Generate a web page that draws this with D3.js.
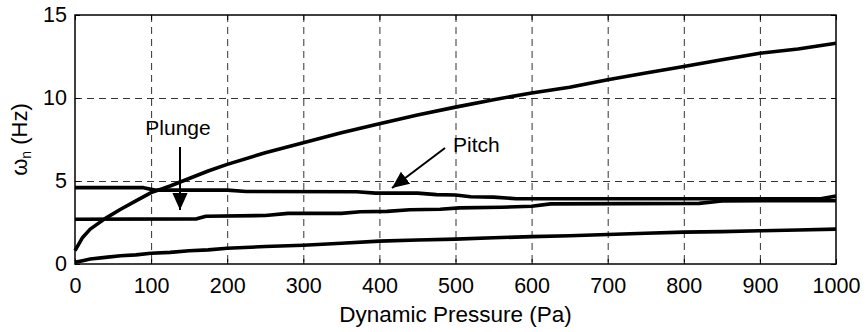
<!DOCTYPE html>
<html>
<head>
<meta charset="utf-8">
<script src="https://cdn.jsdelivr.net/npm/d3@7"></script>
<style>
  body { margin: 0; background: #fff; }
  text { font-family: "Liberation Sans", Arial, sans-serif; fill: #000; }
</style>
</head>
<body>
<svg id="chart"></svg>
<script>
// pressure (Pa) and frequency (Hz)
const upperQ = [0, 10, 20, 40, 60, 80, 100, 125, 150, 175, 200, 250, 300, 350, 400, 450, 500, 550, 600, 650, 700, 750, 800, 850, 900, 950, 1000];
const upperW = [0.8, 1.6, 2.1, 2.75, 3.3, 3.8, 4.3, 4.7, 5.15, 5.6, 6.0, 6.7, 7.3, 7.9, 8.45, 8.98, 9.45, 9.9, 10.3, 10.65, 11.1, 11.5, 11.9, 12.3, 12.7, 12.95, 13.3];

const lowerQ = [0, 10, 20, 40, 60, 80, 100, 125, 150, 175, 200, 250, 300, 350, 400, 450, 500, 550, 600, 650, 700, 750, 800, 850, 900, 950, 1000];
const lowerW = [0.1, 0.2, 0.3, 0.4, 0.5, 0.55, 0.65, 0.7, 0.8, 0.85, 0.95, 1.05, 1.13, 1.25, 1.38, 1.45, 1.5, 1.58, 1.65, 1.7, 1.78, 1.85, 1.92, 1.95, 2.0, 2.05, 2.1];

const pitchQ = [0, 90, 105, 200, 225, 370, 395, 450, 475, 500, 520, 550, 580, 980, 1000];
const pitchW = [4.6, 4.6, 4.45, 4.45, 4.37, 4.35, 4.27, 4.27, 4.18, 4.16, 4.05, 4.03, 3.93, 3.93, 4.1];

const plungeQ = [0, 160, 172, 250, 280, 350, 375, 410, 440, 480, 505, 560, 600, 625, 820, 850, 1000];
const plungeW = [2.7, 2.72, 2.88, 2.92, 3.05, 3.05, 3.15, 3.17, 3.27, 3.3, 3.38, 3.42, 3.48, 3.62, 3.65, 3.8, 3.82];

const xTicks = [0, 100, 200, 300, 400, 500, 600, 700, 800, 900, 1000];
const yTicks = [0, 5, 10, 15];

const width = 866, height = 332;
const margin = { top: 15, right: 30, bottom: 68, left: 75 };

const svg = d3.select("#chart")
  .attr("width", width)
  .attr("height", height);

const x = d3.scaleLinear().domain([0, 1000]).range([margin.left, width - margin.right]);
const y = d3.scaleLinear().domain([0, 15]).range([height - margin.bottom, margin.top]);

// grid
svg.append("g")
  .attr("stroke", "#333")
  .attr("stroke-width", 1)
  .attr("stroke-dasharray", "7,5")
  .call(g => g.selectAll("line.v")
    .data(xTicks.slice(1, -1))
    .join("line")
    .attr("class", "v")
    .attr("x1", d => x(d) + 0.5).attr("x2", d => x(d) + 0.5)
    .attr("y1", margin.top).attr("y2", height - margin.bottom))
  .call(g => g.selectAll("line.h")
    .data(yTicks.slice(1, -1))
    .join("line")
    .attr("class", "h")
    .attr("y1", d => y(d) + 0.5).attr("y2", d => y(d) + 0.5)
    .attr("x1", margin.left).attr("x2", width - margin.right));

// axes with inward ticks
svg.append("g")
  .attr("transform", `translate(0,${height - margin.bottom})`)
  .call(d3.axisBottom(x).tickValues(xTicks).tickFormat(d3.format("d")).tickSizeInner(-5).tickSizeOuter(0).tickPadding(14))
  .call(g => g.select(".domain").remove())
  .call(g => g.selectAll("text").attr("font-size", 21.5).attr("font-family", "Liberation Sans, Arial, sans-serif"));

svg.append("g")
  .attr("transform", `translate(${margin.left},0)`)
  .call(d3.axisLeft(y).tickValues(yTicks).tickSizeInner(-5).tickSizeOuter(0).tickPadding(8))
  .call(g => g.select(".domain").remove())
  .call(g => g.selectAll("text").attr("font-size", 21.5).attr("font-family", "Liberation Sans, Arial, sans-serif"));

svg.append("g")
  .attr("transform", `translate(${width - margin.right},0)`)
  .call(d3.axisRight(y).tickValues(yTicks).tickSizeInner(-5).tickSizeOuter(0).tickFormat(""))
  .call(g => g.select(".domain").remove());

svg.append("g")
  .attr("transform", `translate(0,${margin.top})`)
  .call(d3.axisTop(x).tickValues(xTicks).tickSizeInner(-5).tickSizeOuter(0).tickFormat(""))
  .call(g => g.select(".domain").remove());

svg.append("rect")
  .attr("x", margin.left)
  .attr("y", margin.top)
  .attr("width", width - margin.left - margin.right)
  .attr("height", height - margin.top - margin.bottom)
  .attr("fill", "none")
  .attr("stroke", "#000")
  .attr("stroke-width", 1.5);

// curves
const series = [
  d3.zip(upperQ, upperW),
  d3.zip(lowerQ, lowerW),
  d3.zip(pitchQ, pitchW),
  d3.zip(plungeQ, plungeW)
];

const line = d3.line().x(d => x(d[0])).y(d => y(d[1]));

svg.append("g")
  .attr("fill", "none")
  .attr("stroke", "#000")
  .attr("stroke-width", 3.6)
  .attr("stroke-linejoin", "round")
  .selectAll("path")
  .data(series)
  .join("path")
  .attr("d", line);

// annotations
const defs = svg.append("defs");
defs.append("marker")
  .attr("id", "arrow")
  .attr("viewBox", "0 0 10 10")
  .attr("refX", 10).attr("refY", 5)
  .attr("markerWidth", 17).attr("markerHeight", 17)
  .attr("markerUnits", "userSpaceOnUse")
  .attr("orient", "auto")
  .append("path")
  .attr("d", "M0,0.5 L10,5 L0,9.5 Z")
  .attr("fill", "#000");

svg.append("text")
  .attr("x", 178).attr("y", 135)
  .attr("text-anchor", "middle")
  .attr("font-size", 21)
  .text("Plunge");

svg.append("line")
  .attr("x1", 180).attr("y1", 147)
  .attr("x2", 180).attr("y2", 210)
  .attr("stroke", "#000").attr("stroke-width", 2)
  .attr("marker-end", "url(#arrow)");

svg.append("text")
  .attr("x", 453).attr("y", 152)
  .attr("font-size", 21)
  .text("Pitch");

svg.append("line")
  .attr("x1", 445).attr("y1", 148)
  .attr("x2", 392).attr("y2", 188)
  .attr("stroke", "#000").attr("stroke-width", 2)
  .attr("marker-end", "url(#arrow)");

// axis titles
svg.append("text")
  .attr("x", (margin.left + width - margin.right) / 2)
  .attr("y", 322)
  .attr("text-anchor", "middle")
  .attr("font-size", 22.5)
  .text("Dynamic Pressure (Pa)");

const yLabel = svg.append("text")
  .attr("transform", `translate(27,${(margin.top + height - margin.bottom) / 2}) rotate(-90)`)
  .attr("text-anchor", "middle")
  .attr("font-size", 22);
yLabel.append("tspan").text("ω");
yLabel.append("tspan").attr("font-size", 14).attr("dy", 4).text("n");
yLabel.append("tspan").attr("dy", -4).text(" (Hz)");
</script>
</body>
</html>
